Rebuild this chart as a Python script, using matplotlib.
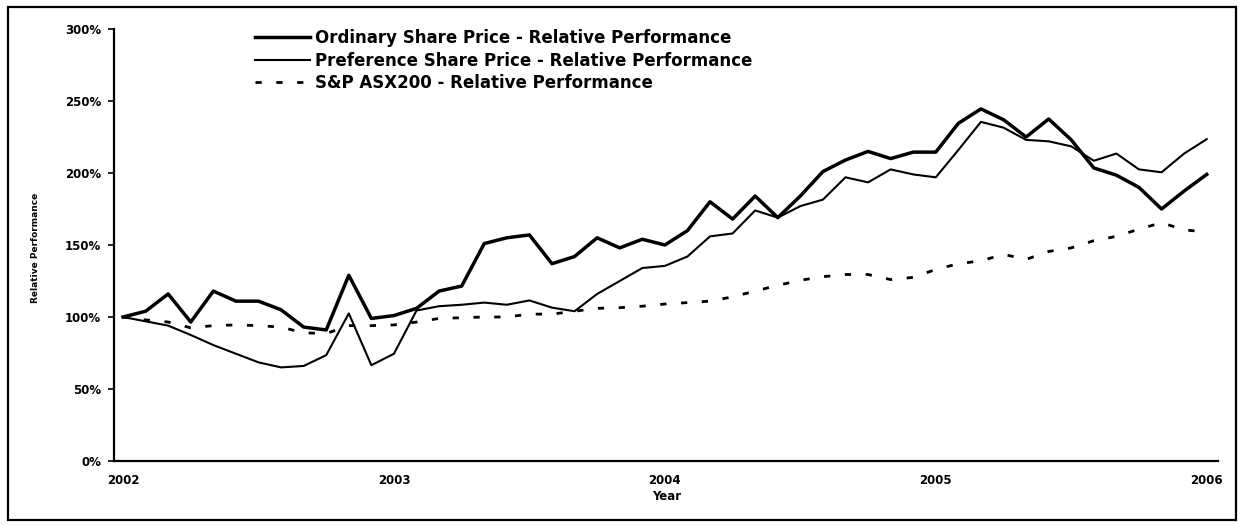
import numpy as np
import matplotlib
matplotlib.use("Agg")
import matplotlib.pyplot as plt
from matplotlib.patches import Rectangle

# ---- data (monthly, Jan 2002 .. Jan 2006) ----
years = ["2002", "2003", "2004", "2005", "2006"]
ordinary = [100, 104, 116, 96.5, 118, 111, 111, 105, 93, 91, 129, 99, 101, 106,
            118, 121.5, 151, 155, 157, 137, 142, 155, 148, 154, 150, 160, 180,
            168, 184, 169, 184, 201, 209, 215, 210, 214.5, 214.5, 234.5, 244.5,
            237, 225, 237.5, 223, 203.5, 198.5, 190, 175, 187.5, 199]
preference = [100, 97, 94, 87.5, 80.5, 74.5, 68.5, 65, 66, 73.5, 102.5, 66.5,
              74.5, 104.5, 107.5, 108.5, 110, 108.5, 111.5, 106.5, 104, 116, 125,
              134, 135.5, 142, 156, 158, 174, 169, 177, 181.5, 197, 193.5, 202.5,
              199, 197, 216, 235.5, 231.5, 223, 222, 218.5, 208.5, 213.5, 202.5,
              200.5, 213.5, 223.5]
asx200 = [100, 98, 96.5, 92.5, 94, 94.5, 94, 93, 89, 88.5, 94, 94, 94.5, 96.5,
          99, 99.5, 100, 100, 102, 102, 104, 106, 106.5, 107.5, 109, 110, 111,
          114, 118, 122, 125.5, 128, 129.5, 129.5, 126, 127.5, 133, 137, 139,
          143.5, 140, 145.5, 148, 153, 156, 161, 165.5, 160.5, 159]
labels = ["Ordinary Share Price - Relative Performance",
          "Preference Share Price - Relative Performance",
          "S&P ASX200 - Relative Performance"]
yticks = [0, 50, 100, 150, 200, 250, 300]

plt.rcParams['lines.scale_dashes'] = False
W, H = 1238, 525
fig = plt.figure(figsize=(W / 100, H / 100), dpi=100)
ax = fig.add_axes([114 / W, 1 - 461 / H, (1218 - 114) / W, (461 - 29) / H])

x = np.arange(len(ordinary))
ax.plot(x, ordinary, color="black", lw=2.5, solid_joinstyle="round", label=labels[0])
ax.plot(x, preference, color="black", lw=1.5, solid_joinstyle="round", label=labels[1])
ax.plot(x, asx200, color="black", lw=2.0, dashes=(4.5, 10.5), dash_capstyle="butt",
        label=labels[2])

ax.set_xlim(-0.4, 48.5)
ax.set_ylim(0, 300)
ax.set_yticks(yticks)
ax.set_yticklabels([f"{v}%" for v in yticks])
ax.set_xticks(np.arange(len(years)) * 12)
ax.set_xticklabels(years)

for s in ["top", "right"]:
    ax.spines[s].set_visible(False)
for s in ["left", "bottom"]:
    ax.spines[s].set_linewidth(1.6)
    ax.spines[s].set_color("black")

fp = dict(family="DejaVu Sans", weight="bold")
ax.tick_params(axis="y", direction="out", length=4.3, width=1.2, pad=5.0,
               labelsize=8.5)
ax.tick_params(axis="x", length=0, pad=9, labelsize=8.5)
for t in ax.get_xticklabels() + ax.get_yticklabels():
    t.set_fontfamily("DejaVu Sans")
    t.set_fontweight("bold")

ax.set_xlabel("Year", fontsize=8.5, **fp)
ax.xaxis.set_label_coords(0.501, -0.068)
ax.set_ylabel("Relative Performance", fontsize=6.5, **fp)
ax.yaxis.set_label_coords(-0.067, 0.493)

# legend font size chosen to match the measured text width
lfs = 12.0
em = lfs * 100 / 72
leg = ax.legend(loc="upper left", bbox_to_anchor=(255 / W, 1 - 29 / H),
                bbox_transform=fig.transFigure, frameon=False, borderpad=0,
                borderaxespad=0, handlelength=55 / em, handletextpad=5 / em,
                labelspacing=0.28, prop=dict(family="DejaVu Sans", weight="bold", size=lfs))

# outer frame
fig.add_artist(Rectangle((8 / W, 5 / H), (1236 - 8) / W, (519 - 6) / H,
                         transform=fig.transFigure, fill=False,
                         edgecolor="black", lw=1.6))

fig.savefig("out.png", dpi=100)
